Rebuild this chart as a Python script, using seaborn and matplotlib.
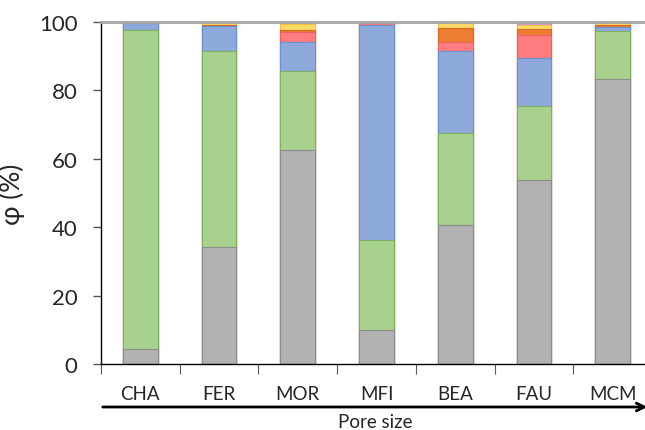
import numpy as np
import pandas as pd
import matplotlib
matplotlib.use("Agg")
import matplotlib.pyplot as plt
import seaborn as sns

## data (percent, bottom to top)
frameworks = ["CHA", "FER", "MOR", "MFI", "BEA", "FAU", "MCM"]
grey_part = [4.3, 34.2, 62.6, 10.0, 40.7, 53.8, 83.2]
green_part = [93.5, 57.2, 23.2, 26.3, 26.8, 21.7, 14.1]
blue_part = [1.9, 7.3, 8.4, 62.8, 23.9, 13.9, 1.3]
red_part = [0.0, 0.0, 2.9, 0.5, 2.8, 6.9, 0.0]
orange_part = [0.1, 0.3, 0.6, 0.4, 3.9, 1.7, 0.4]
yellow_part = [0.0, 0.8, 1.7, 0.0, 1.6, 1.1, 0.7]
purple_part = [0.2, 0.2, 0.6, 0.0, 0.3, 0.9, 0.3]

series = [grey_part, green_part, blue_part, red_part, orange_part, yellow_part, purple_part]
fills = ["#b2b2b2", "#a9d18e", "#8eaadb", "#ff7c80", "#ed7d31", "#ffd966", "#cc99dd"]
edges = ["#8c8c8c", "#7fb062", "#6a8fcf", "#f06060", "#d86a20", "#f0c040", "#b07cc0"]

sns.set_style("white")
plt.rcParams['font.family'] = ['Lato', 'DejaVu Sans']

fig = plt.figure(figsize=(6.45, 4.31), dpi=100)
ax = fig.add_axes([101/645, 66/431, 551/645, 342/431])

cum = np.cumsum(np.array(series), axis=0)
# draw the tallest stack first so lower segments sit on top of it
for k in range(len(series) - 1, -1, -1):
    df = pd.DataFrame({"fw": frameworks, "val": cum[k]})
    sns.barplot(data=df, x="fw", y="val", color=fills[k], width=0.44,
                edgecolor=edges[k], linewidth=0.8, saturation=1, ax=ax)

ax.set_xlim(-0.5, 6.5)
ax.set_ylim(0, 100)
ax.set_yticks([0, 20, 40, 60, 80, 100])
ax.set_xlabel("")
ax.set_ylabel("φ (%)", fontsize=19)
ax.yaxis.set_label_coords((25 - 101) / 551, 0.5)

ax.tick_params(axis="y", which="major", direction="out", length=6, width=1,
               color="#555555", labelsize=16, pad=11, left=True)
ax.tick_params(axis="x", which="major", length=0, labelsize=13.5, pad=15)
ax.set_xticks(np.arange(-0.5, 7.0, 1.0), minor=True)
ax.tick_params(axis="x", which="minor", direction="out", length=7, width=0.8,
               color="#555555", bottom=True)

for s in ["left", "bottom"]:
    ax.spines[s].set_color("black")
    ax.spines[s].set_linewidth(1.0)
ax.spines["right"].set_visible(False)
ax.spines["top"].set_color("#a6a6a6")
ax.spines["top"].set_linewidth(2.0)

fig.add_artist(matplotlib.patches.FancyArrowPatch(
    (100/645, 1 - 408/431), (650/645, 1 - 408/431), transform=fig.transFigure,
    arrowstyle="->", mutation_scale=14, linewidth=2, color="black"))
fig.text(375/645, 1 - 423/431, "Pore size", ha="center", va="center", fontsize=13.5)

fig.savefig("out.png", dpi=100)
